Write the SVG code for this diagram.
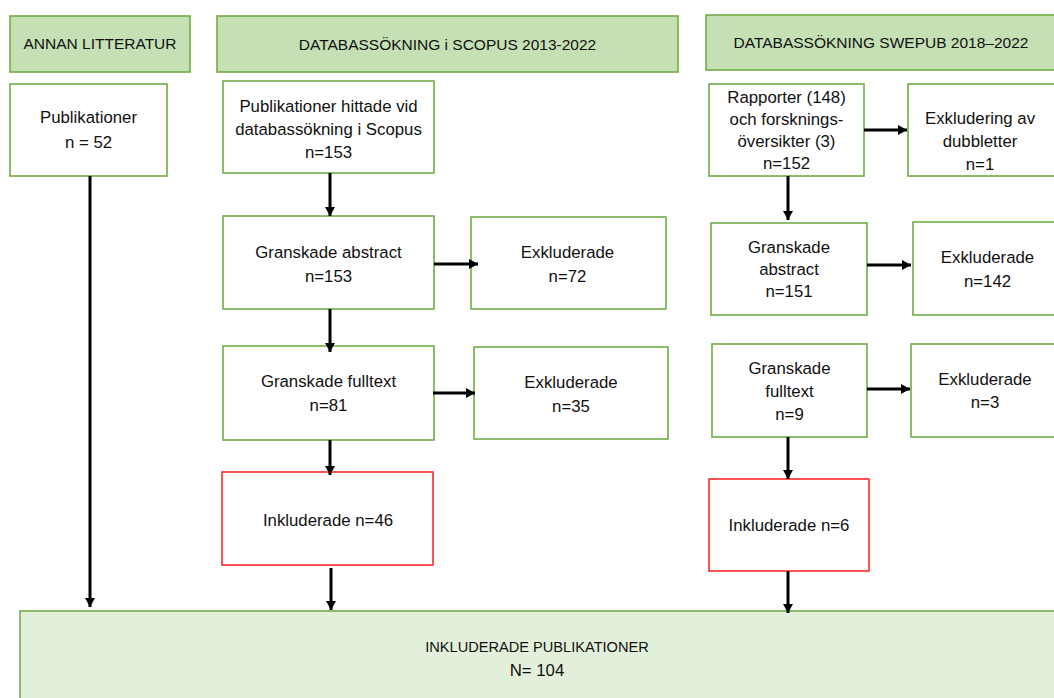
<svg xmlns="http://www.w3.org/2000/svg" width="1054" height="698" viewBox="0 0 1054 698">
<style>
.hdr{fill:#c5e0b4;stroke:#70ad47;stroke-width:1.6}
.box{fill:#ffffff;stroke:#70ad47;stroke-width:1.6}
.red{fill:#ffffff;stroke:#ff2a2a;stroke-width:1.6}
.fin{fill:#e2efda;stroke:#70ad47;stroke-width:1.6}
text{font-family:"Liberation Sans",Arial,sans-serif;font-size:16.8px;fill:#111111;text-anchor:middle}
.h{font-size:15.5px}
.b{font-size:14.6px}
.c line{stroke:#000;stroke-width:3;marker-end:url(#ah)}
</style>
<defs>
<marker id="ah" markerUnits="userSpaceOnUse" markerWidth="10" markerHeight="10" refX="9" refY="5" orient="auto">
<path d="M0,0 L9,5 L0,10 z" fill="#000"/>
</marker>
</defs>
<rect width="1054" height="698" fill="#ffffff"/>
<g id="h1"><rect class="hdr" x="10" y="16" width="180" height="56"/><text class="h" x="100" y="49">ANNAN LITTERATUR</text></g>
<g id="h2"><rect class="hdr" x="217" y="16" width="461" height="56"/><text class="h" x="447.5" y="50">DATABASSÖKNING i SCOPUS 2013-2022</text></g>
<g id="h3"><rect class="hdr" x="706" y="15" width="360" height="55"/><text class="h" x="881" y="48">DATABASSÖKNING SWEPUB 2018–2022</text></g>
<g id="n52"><rect class="box" x="10" y="84" width="157" height="92"/><text x="88.5" y="123">Publikationer</text><text x="88.5" y="148">n = 52</text></g>
<g id="s1"><rect class="box" x="223" y="81" width="211" height="92"/><text x="328.5" y="112">Publikationer hittade vid</text><text x="328.5" y="135">databassökning i Scopus</text><text x="328.5" y="158">n=153</text></g>
<g id="s2"><rect class="box" x="223" y="216" width="211" height="93"/><text x="328.5" y="258">Granskade abstract</text><text x="328.5" y="282">n=153</text></g>
<g id="s2x"><rect class="box" x="471" y="217" width="195" height="92"/><text x="567.5" y="258">Exkluderade</text><text x="567.5" y="282">n=72</text></g>
<g id="s3"><rect class="box" x="223" y="346" width="211" height="94"/><text x="328.5" y="387">Granskade fulltext</text><text x="328.5" y="411">n=81</text></g>
<g id="s3x"><rect class="box" x="474" y="347" width="194" height="92"/><text x="571" y="388">Exkluderade</text><text x="571" y="412">n=35</text></g>
<g id="s4"><rect class="red" x="222" y="472" width="211" height="93"/><text x="328" y="526">Inkluderade n=46</text></g>
<g id="w1"><rect class="box" x="709" y="84" width="155" height="92"/><text x="786.5" y="103">Rapporter (148)</text><text x="786.5" y="125">och forsknings-</text><text x="786.5" y="147">översikter (3)</text><text x="786.5" y="169">n=152</text></g>
<g id="w1x"><rect class="box" x="908" y="84" width="160" height="92"/><text x="980" y="124">Exkludering av</text><text x="980" y="147">dubbletter</text><text x="980" y="170">n=1</text></g>
<g id="w2"><rect class="box" x="711" y="223" width="156" height="92"/><text x="789" y="253">Granskade</text><text x="789" y="275">abstract</text><text x="789" y="297">n=151</text></g>
<g id="w2x"><rect class="box" x="913" y="222" width="155" height="93"/><text x="987.5" y="263">Exkluderade</text><text x="987.5" y="287">n=142</text></g>
<g id="w3"><rect class="box" x="712" y="344" width="155" height="93"/><text x="789.5" y="374">Granskade</text><text x="789.5" y="397">fulltext</text><text x="789.5" y="420">n=9</text></g>
<g id="w3x"><rect class="box" x="911" y="344" width="157" height="93"/><text x="985" y="385">Exkluderade</text><text x="985" y="408">n=3</text></g>
<g id="w4"><rect class="red" x="709" y="479" width="160" height="92"/><text x="789" y="531">Inkluderade n=6</text></g>
<g id="fin"><rect class="fin" x="20" y="611" width="1050" height="100"/><text class="b" x="537" y="652">INKLUDERADE PUBLIKATIONER</text><text x="537" y="676">N= 104</text></g>
<g id="connectors" class="c">
<line x1="90" y1="176" x2="90" y2="607"/>
<line x1="330" y1="173" x2="330" y2="216"/>
<line x1="434" y1="264" x2="478" y2="264"/>
<line x1="330" y1="309" x2="330" y2="352"/>
<line x1="433" y1="393" x2="475" y2="393"/>
<line x1="330" y1="440" x2="330" y2="475"/>
<line x1="331" y1="568" x2="331" y2="610"/>
<line x1="864" y1="130" x2="907" y2="130"/>
<line x1="788" y1="176" x2="788" y2="220"/>
<line x1="867" y1="265" x2="911" y2="265"/>
<line x1="867" y1="389" x2="910" y2="389"/>
<line x1="788" y1="437" x2="788" y2="479"/>
<line x1="788" y1="571" x2="788" y2="613"/>
</g>
</svg>
